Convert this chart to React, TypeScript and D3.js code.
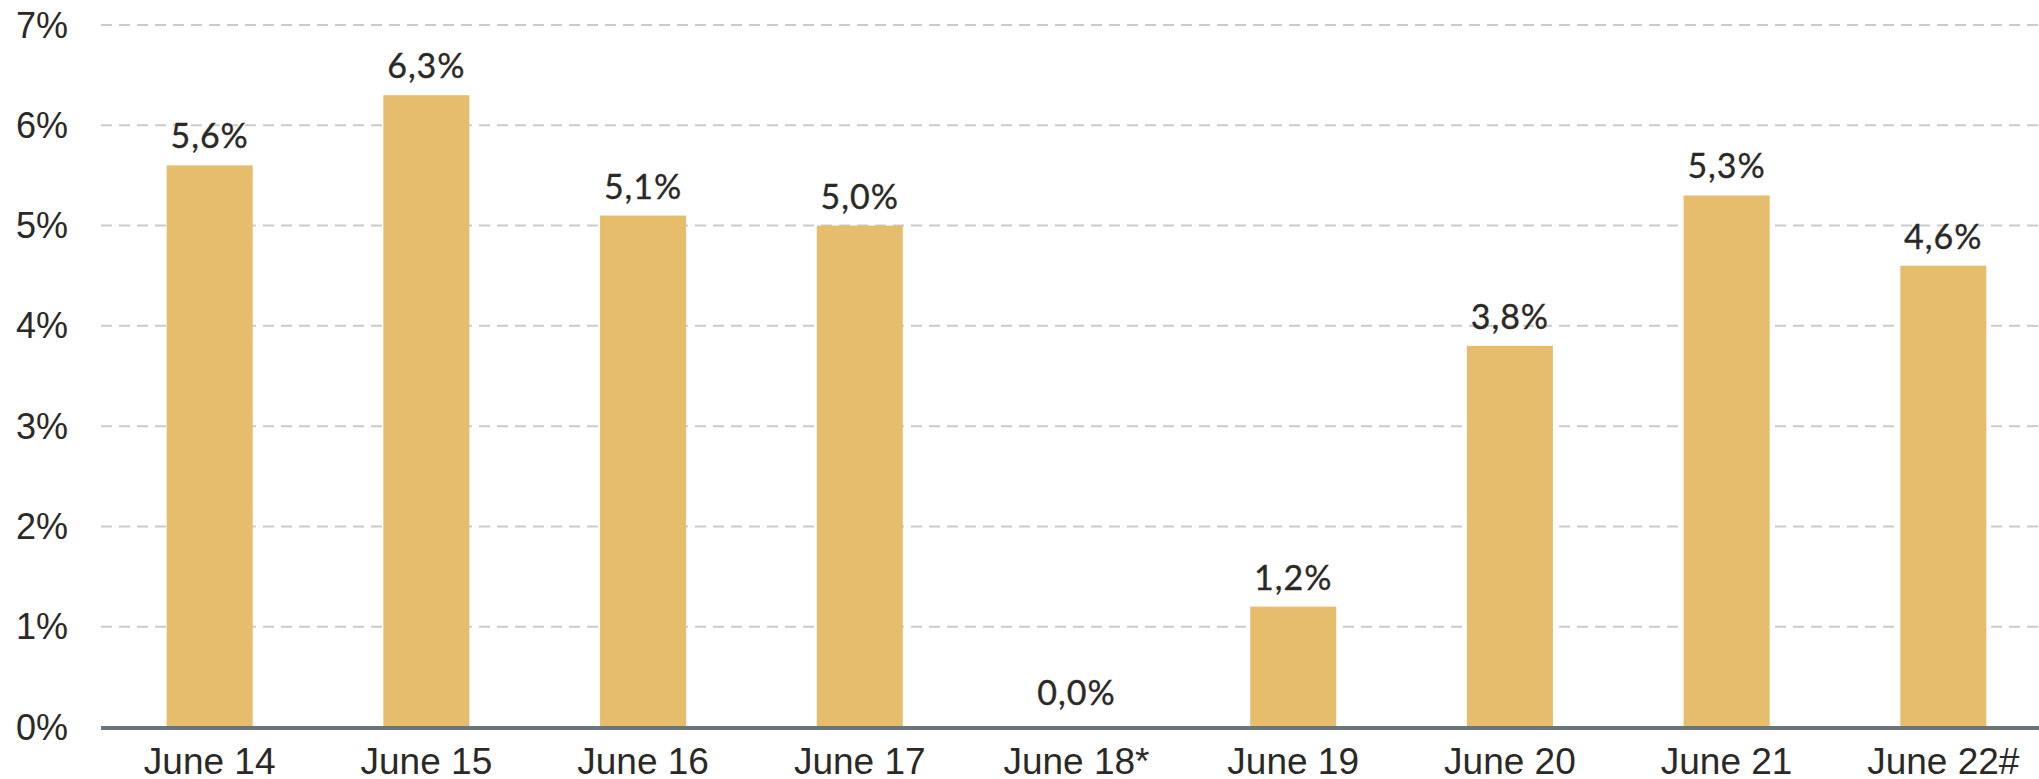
import React, { useEffect, useRef } from 'react';
import * as d3 from 'd3';

// chart data
const categories = ['June 14', 'June 15', 'June 16', 'June 17', 'June 18*', 'June 19', 'June 20', 'June 21', 'June 22#'];
const values = [5.6, 6.3, 5.1, 5.0, 0.0, 1.2, 3.8, 5.3, 4.6];
const yTicks = [0, 1, 2, 3, 4, 5, 6, 7];

const W = 2039;
const H = 779;

export default function App() {
  const ref = useRef<SVGSVGElement>(null);

  useEffect(() => {
    const svg = d3.select(ref.current);
    svg.selectAll('*').remove();

    const left = 101;
    const y = d3.scaleLinear().domain([0, 7]).range([727, 25]);
    const x = d3.scaleBand<string>()
      .domain(categories)
      .range([left, 2052])
      .paddingInner(0.603)
      .paddingOuter(0.303);

    // grid lines
    svg.append('g')
      .selectAll('line')
      .data(yTicks.filter(d => d > 0))
      .enter()
      .append('line')
        .attr('x1', left)
        .attr('x2', W)
        .attr('y1', d => y(d))
        .attr('y2', d => y(d))
        .attr('stroke', '#c9cbcd')
        .attr('stroke-width', 2)
        .attr('stroke-dasharray', '11,7');

    // y tick labels
    svg.append('g')
      .selectAll('text')
      .data(yTicks)
      .enter()
      .append('text')
        .attr('x', 68)
        .attr('y', d => y(d))
        .attr('dy', '0.35em')
        .attr('text-anchor', 'end')
        .style('font-family', '"Liberation Sans", Arial, sans-serif')
        .style('font-size', '36px')
        .style('fill', '#2b2926')
        .text(d => d + '%');

    // bars
    svg.append('g')
      .selectAll('rect')
      .data(values)
      .enter()
      .append('rect')
        .attr('x', (d, i) => x(categories[i])!)
        .attr('width', x.bandwidth())
        .attr('y', d => y(d))
        .attr('height', d => y(0) - y(d))
        .attr('fill', '#e6bc6d');

    // value labels
    svg.append('g')
      .selectAll('text')
      .data(values)
      .enter()
      .append('text')
        .attr('x', (d, i) => x(categories[i])! + x.bandwidth() / 2)
        .attr('y', d => y(d) - (d === 0 ? 22 : 17))
        .attr('text-anchor', 'middle')
        .style('font-family', 'Lato, "Open Sans", sans-serif')
        .style('font-size', '34px')
        .style('font-weight', 400)
        .style('letter-spacing', '1px')
        .style('fill', '#2b2926')
        .style('stroke', '#2b2926')
        .style('stroke-width', '0.35px')
        .text(d => d.toFixed(1).replace('.', ',') + '%');

    // x axis line
    svg.append('line')
      .attr('x1', left)
      .attr('x2', W)
      .attr('y1', y(0) + 1)
      .attr('y2', y(0) + 1)
      .attr('stroke', '#6b7476')
      .attr('stroke-width', 4);

    // x labels
    svg.append('g')
      .selectAll('text')
      .data(categories)
      .enter()
      .append('text')
        .attr('x', d => x(d)! + x.bandwidth() / 2)
        .attr('y', 774)
        .attr('text-anchor', 'middle')
        .style('font-family', '"Liberation Sans", Arial, sans-serif')
        .style('font-size', '37px')
        .style('fill', '#2b2926')
        .text(d => d);
  }, []);

  return (
    <svg ref={ref} width={W} height={H} style={{ position: 'absolute', left: 0, top: 0, background: '#fff' }} />
  );
}
